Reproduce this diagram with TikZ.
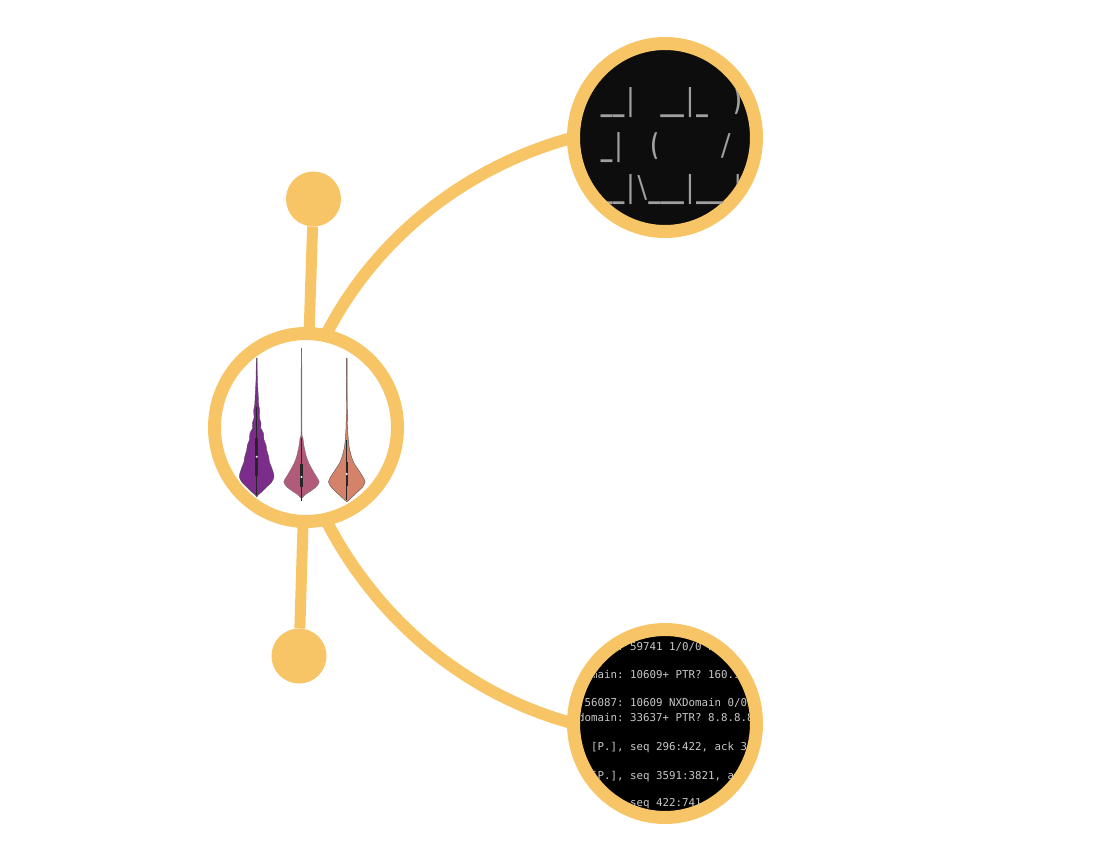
\documentclass[tikz,border=0pt]{standalone}
\usepackage{fontspec}
\usepackage{graphicx}
\newfontfamily\termfont{DejaVu Sans Mono}
\usetikzlibrary{shapes.geometric}
\pgfdeclarelayer{background}
\pgfsetlayers{background,main}
\definecolor{ring}{RGB}{247,196,102}
\definecolor{termbg}{RGB}{13,13,13}
\definecolor{asciigray}{RGB}{160,160,160}
\definecolor{termtext}{RGB}{200,200,200}
\definecolor{vioA}{RGB}{124,45,140}
\definecolor{vioB}{RGB}{178,90,122}
\definecolor{vioC}{RGB}{212,130,106}
\begin{document}
\begin{tikzpicture}[x=1pt,y=1pt,
  bignode/.style={ellipse, draw=ring, line width=13pt, minimum width=183pt, minimum height=188pt, inner sep=0pt, outer sep=0pt},
  knob/.style={circle, fill=ring, minimum size=55pt, inner sep=0pt, outer sep=0pt},
  connector/.style={draw=ring, line width=12pt},
  stick/.style={draw=ring, line width=11pt},
  asciiart/.style={anchor=base west, inner sep=0pt, text=asciigray, font=\termfont\bfseries\fontsize{19.8}{20}\selectfont\frenchspacing},
  dumpline/.style={anchor=base west, inner sep=0pt, text=termtext, font=\termfont\fontsize{10.8}{12}\selectfont\frenchspacing},
  violin/.style={line width=0.35pt, draw=black!70},
  whisker/.style={line width=0.9pt, draw=black!85},
  boxbar/.style={line width=2.6pt, draw=black!85},
  median/.style={fill=white}]
\useasboundingbox (0,0) rectangle (1096,-848);

% main nodes
\node[bignode, fill=white] (hub) at (306,-427.5) {};
\node[bignode, fill=termbg] (banner) at (665,-137.5) {};
\node[bignode, fill=black] (dump) at (665,-723.5) {};
\node[knob] (knobtop) at (313.5,-199) {};
\node[knob] (knobbot) at (299,-656) {};

% connectors
\begin{pgfonlayer}{background}
\draw[connector] (hub.78) to[out=63,in=195,looseness=0.89] (banner.180);
\draw[connector] (hub.-78) to[out=-63,in=165,looseness=0.89] (dump.180);
\draw[stick] (knobtop) -- (hub);
\draw[stick] (knobbot) -- (hub);
\end{pgfonlayer}

% ASCII banner
\begin{scope}
\clip (banner.center) ellipse [x radius=84.5, y radius=87.5];
\node[asciiart] (artA) at (600.5,-111) {\scalebox{1}[1.52]{\_\_|~~\_\_|\_~~)}};
\node[asciiart] (artB) at (600.5,-156) {\scalebox{1}[1.52]{\_|~~(~~~~~/}};
\node[asciiart] (artC) at (588.6,-198) {\scalebox{1}[1.52]{\_\_\_|\textbackslash\_\_\_|\_\_\_|}};
\end{scope}

% tcpdump output
\begin{scope}
\clip (dump.center) ellipse [x radius=84.5, y radius=88];
\node[dumpline] (dA) at (630,-650.5) {\llap{ip-172-31-1-1.ec2.internal.56087: }59741 1/0/0 PTR ip-172-31-0-2.};
\node[dumpline] (dB) at (630,-678.7) {\llap{ip-172-31-0-2.ec2.internal.domain: }10609+ PTR? 160.1.31.172.in-addr.arpa.};
\node[dumpline] (dC) at (630,-706) {\llap{ip-172-31-1-1.ec2.internal.56087: }10609 NXDomain 0/0/1 (102)};
\node[dumpline] (dD) at (630,-721.7) {\llap{ip-172-31-0-2.ec2.internal.domain: }33637+ PTR? 8.8.8.8.in-addr.arpa.};
\node[dumpline] (dE) at (630,-750) {\llap{Flags [P.], }seq 296:422, ack 3591, win 501};
\node[dumpline] (dF) at (630,-779.3) {\llap{Flags [P.], }seq 3591:3821, ack 422, win 489};
\node[dumpline] (dG) at (630,-806.7) {\llap{Flags [P.], }seq 422:741, ack 3821, win 501};
\end{scope}

% violin plots
\begin{scope}[shift={(256.7,0)}]
\draw[violin, fill=vioA] plot[smooth, tension=0.4] coordinates {
 (0.4,-358) (0.7,-380) (1.5,-395) (2,-405) (3,-410) (2.7,-418) (4.3,-423) (4,-428) (6.7,-433) (7.3,-440)
 (9.3,-445) (10,-450) (12,-457) (12.7,-462) (14.7,-467) (16.7,-473) (17.3,-477) (15,-482) (10,-487) (5,-492) (1.3,-495) (0,-497)
 (-1.3,-495) (-5,-492) (-10,-487) (-15,-482) (-17.3,-477) (-16.7,-473) (-14.7,-467) (-12.7,-462) (-12,-457) (-10,-450)
 (-9.3,-445) (-7.3,-440) (-6.7,-433) (-4,-428) (-4.3,-423) (-2.7,-418) (-3,-410) (-2,-405) (-1.5,-395) (-0.7,-380) (-0.4,-358)} -- cycle;
\draw[whisker] (0,-406.7) -- (0,-495);
\draw[boxbar] (0,-438) -- (0,-476);
\fill[median] (0,-456.7) circle (1.1);
\end{scope}

\begin{scope}[shift={(301.5,0)}]
\draw[violin, draw=black!55, fill=vioB] plot[smooth, tension=0.4] coordinates {
 (0.3,-348) (0.5,-432) (1.3,-437) (2.7,-447) (5,-457) (7.3,-463) (11,-470) (15,-476.7) (17.7,-481.7) (15,-486.7) (8.3,-491.7) (3.3,-495) (0,-498.5)
 (-3.3,-495) (-8.3,-491.7) (-15,-486.7) (-17.7,-481.7) (-15,-476.7) (-11,-470) (-7.3,-463) (-5,-457) (-2.7,-447) (-1.3,-437) (-0.5,-432) (-0.3,-348)} -- cycle;
\draw[whisker] (0,-438) -- (0,-501);
\draw[boxbar] (0,-464) -- (0,-487);
\fill[median] (0,-477) circle (1.1);
\end{scope}

\begin{scope}[shift={(346.8,0)}]
\draw[violin, fill=vioC] plot[smooth, tension=0.4] coordinates {
 (0.3,-358) (0.6,-420) (1.3,-436.7) (2.3,-446.7) (4.7,-456.7) (7.3,-463.3) (11.7,-470) (16,-476.7) (18.3,-481.7) (16,-486.7) (9.3,-493.3) (4,-498.3) (0,-501.7)
 (-4,-498.3) (-9.3,-493.3) (-16,-486.7) (-18.3,-481.7) (-16,-476.7) (-11.7,-470) (-7.3,-463.3) (-4.7,-456.7) (-2.3,-446.7) (-1.3,-436.7) (-0.6,-420) (-0.3,-358)} -- cycle;
\draw[whisker] (0,-440) -- (0,-500);
\draw[boxbar] (0,-462) -- (0,-486);
\fill[median] (0,-474) circle (1.1);
\end{scope}
\end{tikzpicture}
\end{document}
